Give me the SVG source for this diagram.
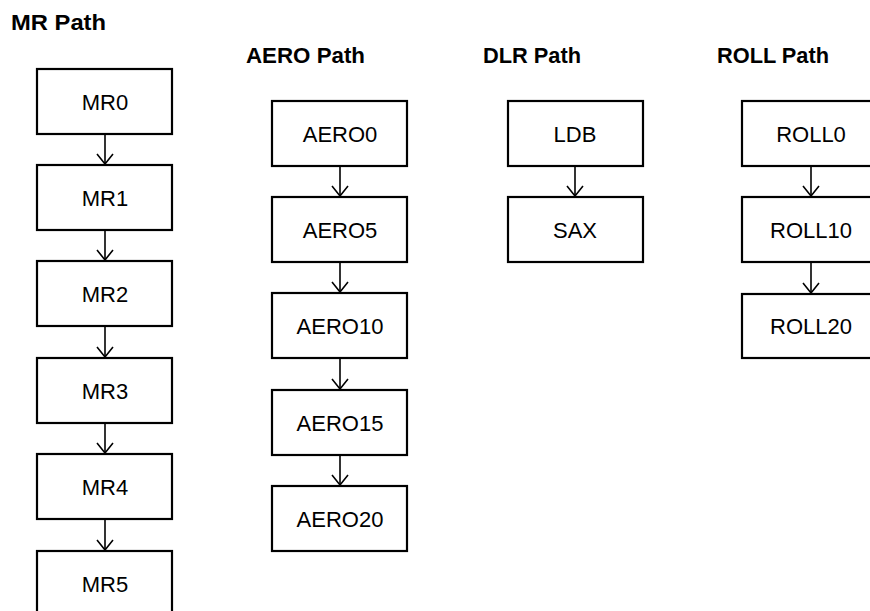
<svg xmlns="http://www.w3.org/2000/svg" width="870" height="611" viewBox="0 0 870 611">
<style>
.box{fill:#fff;stroke:#000;stroke-width:2.2}
.lbl{font-family:"Liberation Sans",Arial,sans-serif;font-size:22px;fill:#000;text-anchor:middle}
.ttl{font-family:"Liberation Sans",Arial,sans-serif;font-size:22px;font-weight:bold;fill:#000}
.con{stroke:#000;stroke-width:1.6;fill:none}
</style>
<defs>
<marker id="arr" markerUnits="userSpaceOnUse" markerWidth="14" markerHeight="18" refX="11" refY="8.5" orient="auto" viewBox="0 0 14 18">
<path d="M1,0.5 L11,8.5 L1,16.5" fill="none" stroke="#000" stroke-width="1.6"/>
</marker>
</defs>
<rect width="870" height="611" fill="#fff"/>
<g id="titles">
<text class="ttl" x="11" y="30" textLength="95" lengthAdjust="spacingAndGlyphs">MR Path</text>
<text class="ttl" x="246" y="63" textLength="119" lengthAdjust="spacingAndGlyphs">AERO Path</text>
<text class="ttl" x="483" y="63" textLength="98" lengthAdjust="spacingAndGlyphs">DLR Path</text>
<text class="ttl" x="717" y="63" textLength="112" lengthAdjust="spacingAndGlyphs">ROLL Path</text>
</g>
<g id="connectors">
<line class="con" x1="105" y1="134" x2="105" y2="164" marker-end="url(#arr)"/>
<line class="con" x1="105" y1="230" x2="105" y2="260" marker-end="url(#arr)"/>
<line class="con" x1="105" y1="326" x2="105" y2="357" marker-end="url(#arr)"/>
<line class="con" x1="105" y1="423" x2="105" y2="453" marker-end="url(#arr)"/>
<line class="con" x1="105" y1="519" x2="105" y2="550" marker-end="url(#arr)"/>
<line class="con" x1="340" y1="166" x2="340" y2="196" marker-end="url(#arr)"/>
<line class="con" x1="340" y1="262" x2="340" y2="292" marker-end="url(#arr)"/>
<line class="con" x1="340" y1="358" x2="340" y2="389" marker-end="url(#arr)"/>
<line class="con" x1="340" y1="455" x2="340" y2="485" marker-end="url(#arr)"/>
<line class="con" x1="575" y1="166" x2="575" y2="196" marker-end="url(#arr)"/>
<line class="con" x1="811" y1="166" x2="811" y2="196" marker-end="url(#arr)"/>
<line class="con" x1="811" y1="262" x2="811" y2="293" marker-end="url(#arr)"/>
</g>
<g id="MR0"><rect class="box" x="37" y="69" width="135" height="65"/><text class="lbl" x="105" y="110">MR0</text></g>
<g id="MR1"><rect class="box" x="37" y="165" width="135" height="65"/><text class="lbl" x="105" y="206">MR1</text></g>
<g id="MR2"><rect class="box" x="37" y="261" width="135" height="65"/><text class="lbl" x="105" y="302">MR2</text></g>
<g id="MR3"><rect class="box" x="37" y="358" width="135" height="65"/><text class="lbl" x="105" y="399">MR3</text></g>
<g id="MR4"><rect class="box" x="37" y="454" width="135" height="65"/><text class="lbl" x="105" y="495">MR4</text></g>
<g id="MR5"><rect class="box" x="37" y="551" width="135" height="65"/><text class="lbl" x="105" y="592">MR5</text></g>
<g id="AERO0"><rect class="box" x="272" y="101" width="135" height="65"/><text class="lbl" x="340" y="142">AERO0</text></g>
<g id="AERO5"><rect class="box" x="272" y="197" width="135" height="65"/><text class="lbl" x="340" y="238">AERO5</text></g>
<g id="AERO10"><rect class="box" x="272" y="293" width="135" height="65"/><text class="lbl" x="340" y="334">AERO10</text></g>
<g id="AERO15"><rect class="box" x="272" y="390" width="135" height="65"/><text class="lbl" x="340" y="431">AERO15</text></g>
<g id="AERO20"><rect class="box" x="272" y="486" width="135" height="65"/><text class="lbl" x="340" y="527">AERO20</text></g>
<g id="LDB"><rect class="box" x="508" y="101" width="135" height="65"/><text class="lbl" x="575" y="142">LDB</text></g>
<g id="SAX"><rect class="box" x="508" y="197" width="135" height="65"/><text class="lbl" x="575" y="238">SAX</text></g>
<g id="ROLL0"><rect class="box" x="742" y="101" width="137" height="65"/><text class="lbl" x="811" y="142">ROLL0</text></g>
<g id="ROLL10"><rect class="box" x="742" y="197" width="137" height="65"/><text class="lbl" x="811" y="238">ROLL10</text></g>
<g id="ROLL20"><rect class="box" x="742" y="294" width="137" height="64"/><text class="lbl" x="811" y="334">ROLL20</text></g>
</svg>
